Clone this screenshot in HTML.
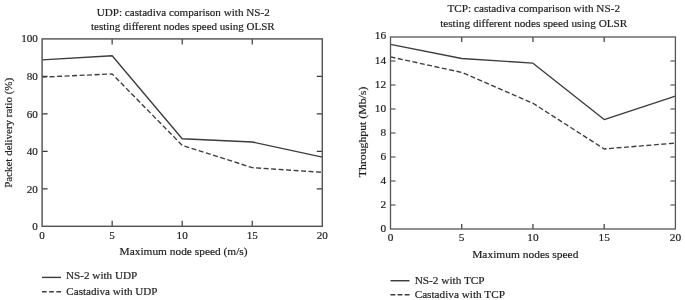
<!DOCTYPE html>
<html><head><meta charset="utf-8"><title>Castadiva comparison with NS-2</title>
<style>
html,body{margin:0;padding:0;background:#fff;overflow:hidden;}
svg{display:block;font-family:"Liberation Serif","DejaVu Serif",serif;fill:#1e1e1e;stroke:#1e1e1e;stroke-width:0.18px;}
</style></head><body>
<svg width="685" height="300" viewBox="0 0 685 300">
<rect width="685" height="300" fill="#fff" stroke="none"/>
<g font-size="10.4">
<text x="39.32" y="238.70" textLength="5.56" lengthAdjust="spacingAndGlyphs">0</text>
<text x="109.37" y="238.70" textLength="5.56" lengthAdjust="spacingAndGlyphs">5</text>
<text x="176.64" y="238.70" textLength="11.13" lengthAdjust="spacingAndGlyphs">10</text>
<text x="246.69" y="238.70" textLength="11.13" lengthAdjust="spacingAndGlyphs">15</text>
<text x="316.74" y="238.70" textLength="11.13" lengthAdjust="spacingAndGlyphs">20</text>
<text x="32.34" y="230.00" textLength="5.56" lengthAdjust="spacingAndGlyphs">0</text>
<text x="26.77" y="192.72" textLength="11.13" lengthAdjust="spacingAndGlyphs">20</text>
<text x="26.77" y="154.74" textLength="11.13" lengthAdjust="spacingAndGlyphs">40</text>
<text x="26.77" y="118.46" textLength="11.13" lengthAdjust="spacingAndGlyphs">60</text>
<text x="26.77" y="79.78" textLength="11.13" lengthAdjust="spacingAndGlyphs">80</text>
<text x="21.21" y="42.30" textLength="16.69" lengthAdjust="spacingAndGlyphs">100</text>
</g>
<path d="M112.15 226.3v-5.5M112.15 38.9v5.5M182.20 226.3v-5.5M182.20 38.9v5.5M252.25 226.3v-5.5M252.25 38.9v5.5M42.1 188.82h5.5M322.3 188.82h-5.5M42.1 151.34h5.5M322.3 151.34h-5.5M42.1 113.86h5.5M322.3 113.86h-5.5M42.1 76.38h5.5M322.3 76.38h-5.5" stroke="#3a3a3a" stroke-width="1.2" fill="none"/>
<polyline points="42.10,59.89 112.15,55.77 182.20,138.78 252.25,141.97 322.30,157.15" fill="none" stroke="#3c3c3c" stroke-width="1.35" stroke-linejoin="round"/>
<polyline points="42.10,77.13 112.15,73.94 182.20,145.34 252.25,167.64 322.30,172.33" fill="none" stroke="#3c3c3c" stroke-width="1.35" stroke-dasharray="5 2.5" stroke-linejoin="round"/>
<rect x="42.1" y="38.9" width="280.20" height="187.40" fill="none" stroke="#555" stroke-width="1.45"/>
<text x="96.75" y="15.6" font-size="10.4" textLength="173.00" lengthAdjust="spacingAndGlyphs">UDP: castadiva comparison with NS-2</text>
<text x="90.95" y="30.0" font-size="10.4" textLength="183.70" lengthAdjust="spacingAndGlyphs">testing different nodes speed using OLSR</text>
<text transform="translate(12.2,187.85) rotate(-90)" font-size="10.4" textLength="110.00" lengthAdjust="spacingAndGlyphs">Packet delivery ratio (%)</text>
<text x="119.55" y="255.3" font-size="10.4" textLength="128.00" lengthAdjust="spacingAndGlyphs">Maximum node speed (m/s)</text>
<path d="M42 277.4H61" stroke="#3c3c3c" stroke-width="1.4" fill="none"/>
<path d="M42 291.7H61" stroke="#3c3c3c" stroke-width="1.4" stroke-dasharray="4.6 2.6" fill="none"/>
<text x="66.05" y="279.2" font-size="10.4" textLength="71.20" lengthAdjust="spacingAndGlyphs">NS-2 with UDP</text>
<text x="66.35" y="294.9" font-size="10.4" textLength="91.10" lengthAdjust="spacingAndGlyphs">Castadiva with UDP</text>
<g font-size="10.6">
<text x="387.66" y="241.00" textLength="5.67" lengthAdjust="spacingAndGlyphs">0</text>
<text x="458.89" y="241.00" textLength="5.67" lengthAdjust="spacingAndGlyphs">5</text>
<text x="527.28" y="241.00" textLength="11.34" lengthAdjust="spacingAndGlyphs">10</text>
<text x="598.50" y="241.00" textLength="11.34" lengthAdjust="spacingAndGlyphs">15</text>
<text x="669.73" y="241.00" textLength="11.34" lengthAdjust="spacingAndGlyphs">20</text>
<text x="380.53" y="232.20" textLength="5.67" lengthAdjust="spacingAndGlyphs">0</text>
<text x="380.53" y="208.20" textLength="5.67" lengthAdjust="spacingAndGlyphs">2</text>
<text x="380.53" y="184.20" textLength="5.67" lengthAdjust="spacingAndGlyphs">4</text>
<text x="380.53" y="160.20" textLength="5.67" lengthAdjust="spacingAndGlyphs">6</text>
<text x="380.53" y="136.20" textLength="5.67" lengthAdjust="spacingAndGlyphs">8</text>
<text x="374.86" y="112.20" textLength="11.34" lengthAdjust="spacingAndGlyphs">10</text>
<text x="374.86" y="88.20" textLength="11.34" lengthAdjust="spacingAndGlyphs">12</text>
<text x="374.86" y="64.20" textLength="11.34" lengthAdjust="spacingAndGlyphs">14</text>
<text x="374.86" y="38.75" textLength="11.34" lengthAdjust="spacingAndGlyphs">16</text>
</g>
<path d="M461.73 229.0v-5.0M461.73 37.0v5.0M532.95 229.0v-5.0M532.95 37.0v5.0M604.17 229.0v-5.0M604.17 37.0v5.0M390.5 205.00h5.0M675.4 205.00h-5.0M390.5 181.00h5.0M675.4 181.00h-5.0M390.5 157.00h5.0M675.4 157.00h-5.0M390.5 133.00h5.0M675.4 133.00h-5.0M390.5 109.00h5.0M675.4 109.00h-5.0M390.5 85.00h5.0M675.4 85.00h-5.0M390.5 61.00h5.0M675.4 61.00h-5.0" stroke="#3a3a3a" stroke-width="1.2" fill="none"/>
<polyline points="390.50,44.44 461.73,58.48 532.95,63.16 604.17,119.56 675.40,96.16" fill="none" stroke="#3c3c3c" stroke-width="1.35" stroke-linejoin="round"/>
<polyline points="390.50,56.92 461.73,72.40 532.95,103.24 604.17,148.96 675.40,143.08" fill="none" stroke="#3c3c3c" stroke-width="1.35" stroke-dasharray="5 2.5" stroke-linejoin="round"/>
<rect x="390.5" y="37.0" width="284.90" height="192.00" fill="none" stroke="#555" stroke-width="1.3"/>
<text x="447.45" y="12.0" font-size="10.6" textLength="172.60" lengthAdjust="spacingAndGlyphs">TCP: castadiva comparison with NS-2</text>
<text x="440.15" y="26.7" font-size="10.6" textLength="187.20" lengthAdjust="spacingAndGlyphs">testing different nodes speed using OLSR</text>
<text transform="translate(365.5,177.25) rotate(-90)" font-size="10.6" textLength="90.60" lengthAdjust="spacingAndGlyphs">Throughput (Mb/s)</text>
<text x="472.15" y="258.1" font-size="10.6" textLength="106.30" lengthAdjust="spacingAndGlyphs">Maximum nodes speed</text>
<path d="M390.5 280.7H409.5" stroke="#3c3c3c" stroke-width="1.45" fill="none"/>
<path d="M390.5 294.8H409.5" stroke="#3c3c3c" stroke-width="1.5" stroke-dasharray="4.8 2.3" fill="none"/>
<text x="414.65" y="283.6" font-size="10.6" textLength="70.00" lengthAdjust="spacingAndGlyphs">NS-2 with TCP</text>
<text x="414.65" y="297.8" font-size="10.6" textLength="90.30" lengthAdjust="spacingAndGlyphs">Castadiva with TCP</text>
</svg>
</body></html>
